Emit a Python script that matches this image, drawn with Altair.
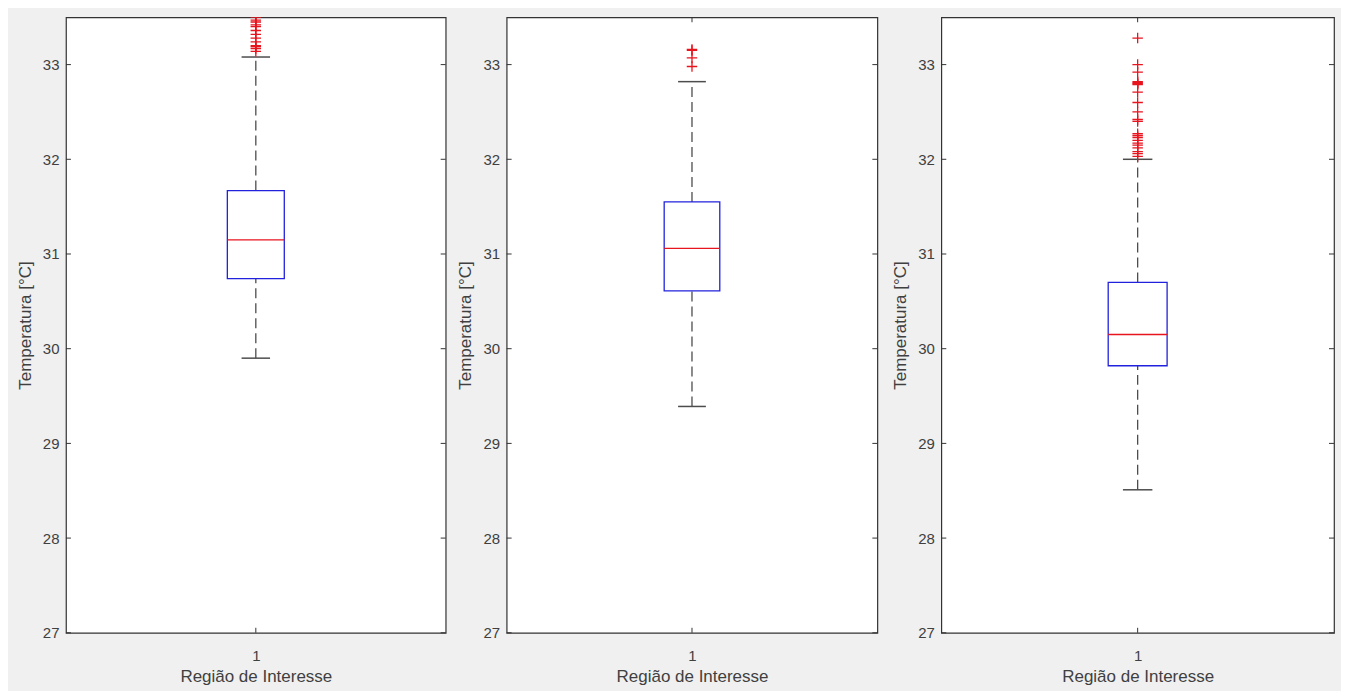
import altair as alt
import pandas as pd

# ---- data (three boxplots, one per panel) ----
lower_whisker = [29.90, 29.39, 28.51]
q1_values = [30.74, 30.61, 29.82]
median_values = [31.15, 31.06, 30.15]
q3_values = [31.67, 31.55, 30.70]
upper_whisker = [33.08, 32.82, 32.00]

outliers_1 = [33.14, 33.17, 33.19, 33.20, 33.24, 33.28, 33.32, 33.36, 33.40,
              33.42, 33.45, 33.47, 33.50]
outliers_2 = [32.98, 33.07, 33.15, 33.16]
outliers_3 = [32.03, 32.06, 32.08, 32.12, 32.15, 32.17, 32.20, 32.23, 32.25,
              32.27, 32.40, 32.42, 32.50, 32.60, 32.71, 32.79, 32.80, 32.81,
              32.82, 32.92, 33.00, 33.28]
outliers = [outliers_1, outliers_2, outliers_3]

y_ticks = [27, 28, 29, 30, 31, 32, 33]
x_ticks = [1]
y_domain = [27, 33.5]
x_domain = [0.5, 1.5]
y_title = "Temperatura [°C]"
x_title = "Região de Interesse"

BLUE = "#2222dd"
RED = "#e8141e"
WHISKER = "#4d4d4d"
FRAME = "#333333"
TEXT = "#404040"
PLUS = "M-1,0H1M0,-1V1"

H = 616
widths = [380, 371, 393]


def panel(i, W):
    stats = pd.DataFrame({
        "pos": [1],
        "lo": [lower_whisker[i]],
        "q1": [q1_values[i]],
        "med": [median_values[i]],
        "q3": [q3_values[i]],
        "hi": [upper_whisker[i]],
    })
    out = pd.DataFrame({"pos": [1] * len(outliers[i]), "v": outliers[i]})
    ticks = pd.DataFrame({"t": y_ticks})
    xt = pd.DataFrame({"pos": x_ticks})

    yscale = alt.Scale(domain=y_domain, nice=False, zero=False)
    xscale = alt.Scale(domain=x_domain, nice=False, zero=False)
    yaxis = alt.Axis(values=y_ticks, format="d", title=y_title, grid=False,
                     ticks=False, domain=False, labelPadding=7, titlePadding=8)
    xaxis = alt.Axis(values=x_ticks, format="d", title=x_title, grid=False,
                     ticks=False, domain=False, labelPadding=16, titlePadding=5)

    def X(f):
        return alt.X(f, type="quantitative", scale=xscale, axis=xaxis)

    def Y(f):
        return alt.Y(f, type="quantitative", scale=yscale, axis=yaxis)

    base = alt.Chart(stats).transform_calculate(
        xl="datum.pos - 0.075", xr="datum.pos + 0.075",
        cl="datum.pos - 0.0375", cr="datum.pos + 0.0375",
    )

    w_up = base.mark_rule(color=WHISKER, strokeDash=[10, 5], strokeWidth=1.3).encode(
        x=X("pos"), y=Y("q3"), y2="hi")
    w_lo = base.mark_rule(color=WHISKER, strokeDash=[10, 5], strokeWidth=1.3).encode(
        x=X("pos"), y=Y("lo"), y2="q1")
    cap_hi = base.mark_rule(color=WHISKER, strokeWidth=1.5).encode(
        x=X("cl"), x2="cr", y=Y("hi"))
    cap_lo = base.mark_rule(color=WHISKER, strokeWidth=1.5).encode(
        x=X("cl"), x2="cr", y=Y("lo"))
    box = base.mark_rect(fill="white", stroke=BLUE, strokeWidth=1.3).encode(
        x=X("xl"), x2="xr", y=Y("q1"), y2="q3")
    med = base.mark_rule(color=RED, strokeWidth=1.3).encode(
        x=X("xl"), x2="xr", y=Y("med"))
    pts = alt.Chart(out).mark_point(shape=PLUS, filled=False, color=RED,
                                    size=110, strokeWidth=1.3, opacity=1,
                                    clip=True).encode(x=X("pos"), y=Y("v"))

    tl = alt.Chart(ticks).mark_rule(color=FRAME, strokeWidth=1).encode(
        y=Y("t"), x=alt.value(0), x2=alt.value(5))
    tr = alt.Chart(ticks).mark_rule(color=FRAME, strokeWidth=1).encode(
        y=Y("t"), x=alt.value(W - 5), x2=alt.value(W))
    tb = alt.Chart(xt).mark_rule(color=FRAME, strokeWidth=1).encode(
        x=X("pos"), y=alt.value(H - 5), y2=alt.value(H))
    tt = alt.Chart(xt).mark_rule(color=FRAME, strokeWidth=1).encode(
        x=X("pos"), y=alt.value(0), y2=alt.value(5))

    return alt.layer(tl, tr, tb, tt, w_up, w_lo, box, med, cap_hi, cap_lo, pts
                     ).properties(width=W, height=H)


p1, p2, p3 = [panel(i, w) for i, w in enumerate(widths)]

chart = alt.hconcat(
    alt.hconcat(p1, p2, spacing=8), p3, spacing=11
).properties(
    background="#f0f0f0",
    padding={"left": 7, "top": 7, "right": 5, "bottom": 5},
).configure_view(
    fill="white", stroke=FRAME, strokeWidth=1.2
).configure_axis(
    labelFont="Liberation Sans", titleFont="Liberation Sans",
    labelFontSize=15, titleFontSize=17, labelColor=TEXT, titleColor=TEXT,
    titleFontWeight="normal",
)

chart.save("out.html", embed_options={"renderer": "svg", "actions": False})
